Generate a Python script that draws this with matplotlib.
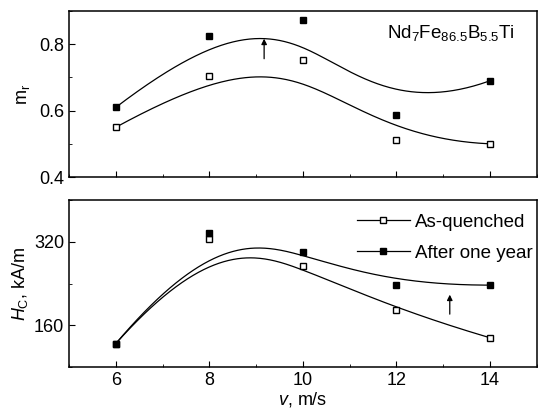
import numpy as np
import matplotlib
matplotlib.use("Agg")
import matplotlib.pyplot as plt
from matplotlib.ticker import MultipleLocator

plt.rcParams.update({
    "font.family": "Liberation Sans",
    "mathtext.fontset": "custom",
    "mathtext.rm": "Liberation Sans",
    "mathtext.it": "Liberation Sans:italic",
    "font.size": 12,
    "axes.linewidth": 1.1,
    "xtick.direction": "in",
    "ytick.direction": "in",
    "xtick.major.size": 4,
    "ytick.major.size": 4,
    "xtick.minor.size": 2.5,
    "ytick.minor.size": 2.5,
})

# ---------------- DATA ----------------
v = [6, 8, 10, 12, 14]

mr_quenched = [0.55, 0.703, 0.752, 0.512, 0.50]
mr_year = [0.61, 0.824, 0.873, 0.588, 0.69]

hc_quenched = [125, 326, 274, 189, 136]
hc_year = [125, 337, 300, 237, 237]

xticks = [6, 8, 10, 12, 14]
labels = ["As-quenched", "After one year"]


def bspline(xs, ys, k=3, n=300):
    # clamped B-spline with the points as control points (Origin style)
    p = np.column_stack([xs, ys]).astype(float)
    m = len(p)
    inner = np.linspace(0, 1, m - k + 1)
    knots = np.concatenate([[0] * k, inner, [1] * k])
    t = np.linspace(0, 1, n)
    t[-1] = 1 - 1e-12

    def basis(i, d, tt):
        if d == 0:
            return ((knots[i] <= tt) & (tt < knots[i + 1])).astype(float)
        out = np.zeros_like(tt)
        den1 = knots[i + d] - knots[i]
        den2 = knots[i + d + 1] - knots[i + 1]
        if den1 > 0:
            out += (tt - knots[i]) / den1 * basis(i, d - 1, tt)
        if den2 > 0:
            out += (knots[i + d + 1] - tt) / den2 * basis(i + 1, d - 1, tt)
        return out

    B = np.array([basis(i, k, t) for i in range(m)])
    c = B.T @ p
    return c[:, 0], c[:, 1]


fig = plt.figure(figsize=(5.4, 4.17), dpi=100)
ax1 = fig.add_axes([0.128, 0.5755, 0.866, 0.398])
ax2 = fig.add_axes([0.128, 0.120, 0.866, 0.400])

ms = 5
lw = 0.9

# top panel
for ys, fc in [(mr_quenched, "white"), (mr_year, "black")]:
    cx, cy = bspline(v, ys)
    ax1.plot(cx, cy, color="black", lw=lw)
    ax1.plot(v, ys, "s", ms=ms, mfc=fc, mec="black", mew=1.0)
ax1.set_xlim(5, 15)
ax1.set_ylim(0.4, 0.9)
ax1.set_xticks(xticks)
ax1.set_xticklabels([])
ax1.xaxis.set_minor_locator(MultipleLocator(1))
ax1.yaxis.set_major_locator(MultipleLocator(0.2))
ax1.yaxis.set_minor_locator(MultipleLocator(0.1))
ax1.yaxis.set_major_formatter(plt.FuncFormatter(lambda y, _: f"{y:.1f}"))
ax1.tick_params(labelsize=13)
ax1.set_ylabel("m$_\\mathrm{r}$", fontsize=13, labelpad=5)
ax1.text(0.68, 0.865, "Nd$_7$Fe$_{86.5}$B$_{5.5}$Ti", transform=ax1.transAxes,
         fontsize=13.5, va="center", ha="left")
ax1.annotate("", xy=(9.17, 0.825), xytext=(9.17, 0.748),
             arrowprops=dict(arrowstyle="-|>", color="black", lw=0.9,
                             mutation_scale=8))

# bottom panel
handles = []
for ys, fc, lab in [(hc_quenched, "white", labels[0]), (hc_year, "black", labels[1])]:
    cx, cy = bspline(v, ys)
    ax2.plot(cx, cy, color="black", lw=lw)
    ax2.plot(v, ys, "s", ms=ms, mfc=fc, mec="black", mew=1.0)
    h, = ax2.plot([], [], "-s", color="black", lw=lw, ms=4, mfc=fc,
                  mec="black", label=lab)
    handles.append(h)
ax2.set_xlim(5, 15)
ax2.set_ylim(80, 400)
ax2.set_xticks(xticks)
ax2.xaxis.set_minor_locator(MultipleLocator(1))
ax2.set_yticks([160, 320])
ax2.yaxis.set_minor_locator(MultipleLocator(80))
ax2.tick_params(labelsize=13)
ax2.set_ylabel("$\\mathit{H}_\\mathrm{C}$, kA/m", fontsize=13, labelpad=3)
ax2.set_xlabel("$\\mathit{v}$, m/s", fontsize=13, labelpad=1)
ax2.annotate("", xy=(13.14, 224), xytext=(13.14, 176),
             arrowprops=dict(arrowstyle="-|>", color="black", lw=0.9,
                             mutation_scale=8))
ax2.legend(handles=handles, loc="upper right", frameon=False, fontsize=13.5,
           handlelength=2.8, handletextpad=0.3, labelspacing=0.75,
           borderaxespad=0.0, borderpad=0.5,
           bbox_to_anchor=(1.012, 0.975))

fig.savefig("out.png", dpi=100)
